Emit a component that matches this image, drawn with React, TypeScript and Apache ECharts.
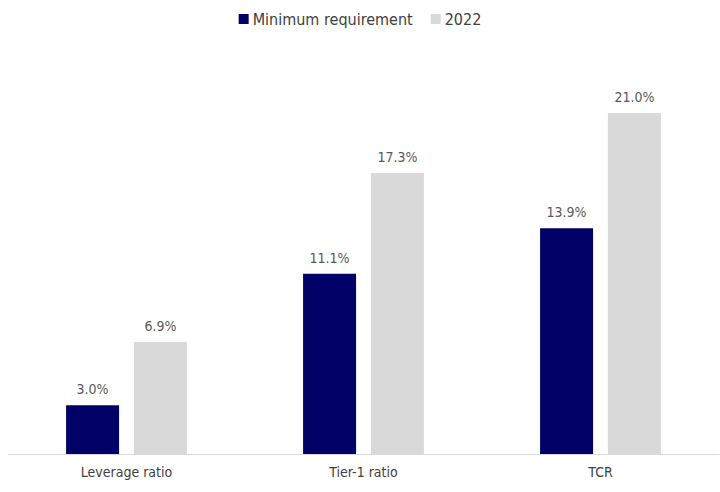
import React, { useEffect, useRef } from "react";
import * as echarts from "echarts";

const categories = ["Leverage ratio", "Tier-1 ratio", "TCR"];
const minimumRequirement = [3.0, 11.1, 13.9];
const values2022 = [6.9, 17.3, 21.0];

const FONT = "'Liberation Sans Narrow', 'DejaVu Sans Condensed', 'Roboto', sans-serif";

export default function App() {
  const ref = useRef<HTMLDivElement>(null);
  useEffect(() => {
    if (!ref.current) return;
    const chart = echarts.init(ref.current, undefined, { renderer: "svg" });
    chart.setOption({
      animation: false,
      textStyle: { fontFamily: FONT },
      legend: {
        top: 6,
        left: "center",
        itemWidth: 10,
        itemHeight: 10,
        itemGap: 18,
        icon: "rect",
        textStyle: { fontFamily: FONT, fontSize: 16, color: "#404040", padding: [0, 0, 0, -1] },
        data: ["Minimum requirement", "2022"],
      },
      grid: { left: 8, right: 1, top: 48, bottom: 38, containLabel: false },
      xAxis: {
        type: "category",
        data: categories,
        axisLine: { lineStyle: { color: "#d9d9d9", width: 1 } },
        axisTick: { show: false },
        axisLabel: { fontFamily: FONT, fontSize: 14, color: "#404040", margin: 11 },
      },
      yAxis: {
        type: "value",
        min: 0,
        max: 25,
        show: false,
        splitLine: { show: false },
      },
      series: [
        {
          name: "Minimum requirement",
          type: "bar",
          data: minimumRequirement,
          barWidth: 53,
          barGap: "28%",
          itemStyle: { color: "#000066" },
          label: {
            show: true,
            position: "top",
            distance: 9,
            formatter: (p: any) => p.value.toFixed(1) + "%",
            fontFamily: FONT,
            fontSize: 14,
            color: "#595959",
          },
        },
        {
          name: "2022",
          type: "bar",
          data: values2022,
          barWidth: 53,
          itemStyle: { color: "#d9d9d9" },
          label: {
            show: true,
            position: "top",
            distance: 9,
            formatter: (p: any) => p.value.toFixed(1) + "%",
            fontFamily: FONT,
            fontSize: 14,
            color: "#595959",
          },
        },
      ],
    });
    return () => chart.dispose();
  }, []);
  return <div ref={ref} style={{ width: 720, height: 492, position: "absolute", left: 0, top: 0 }} />;
}
